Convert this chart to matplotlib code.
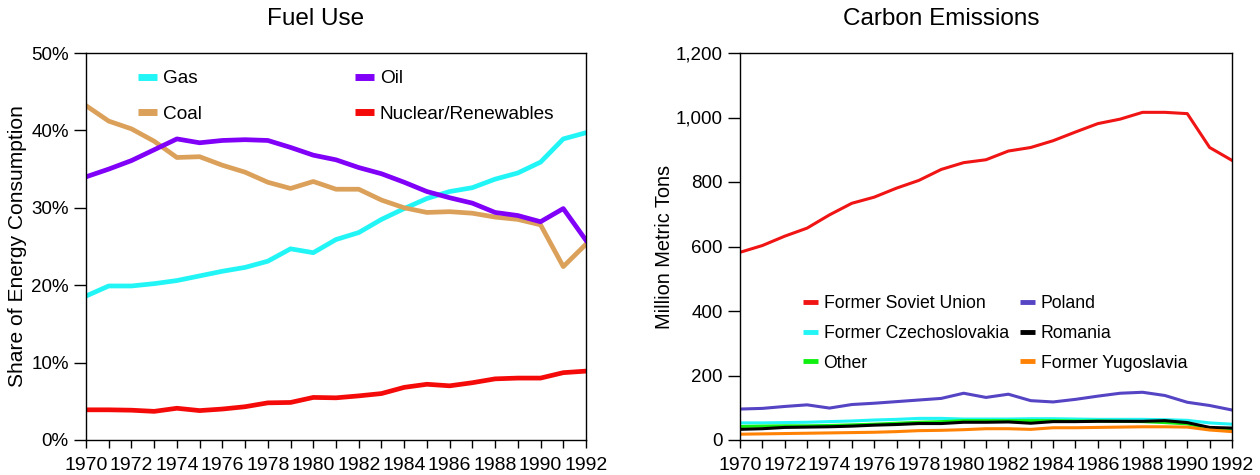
import matplotlib
matplotlib.use("Agg")
import matplotlib.pyplot as plt
from matplotlib.ticker import FuncFormatter, MultipleLocator

plt.rcParams["font.family"] = ["Liberation Sans", "DejaVu Sans"]

years = list(range(1970, 1993))

# ---- Fuel Use (share of energy consumption, %) ----
gas = [18.6, 19.9, 19.9, 20.2, 20.6, 21.2, 21.8, 22.3, 23.1, 24.7, 24.2, 25.9,
       26.8, 28.5, 29.9, 31.2, 32.1, 32.6, 33.7, 34.5, 35.9, 38.9, 39.7]
oil = [34.0, 35.0, 36.1, 37.5, 38.9, 38.4, 38.7, 38.8, 38.7, 37.8, 36.8, 36.2,
       35.2, 34.4, 33.3, 32.1, 31.3, 30.6, 29.4, 29.0, 28.2, 29.9, 25.8]
coal = [43.2, 41.2, 40.2, 38.6, 36.5, 36.6, 35.5, 34.6, 33.3, 32.5, 33.4, 32.4,
        32.4, 31.0, 30.0, 29.4, 29.5, 29.3, 28.8, 28.5, 27.8, 22.4, 25.3]
nuclear = [3.9, 3.9, 3.85, 3.7, 4.1, 3.8, 4.0, 4.3, 4.8, 4.85, 5.5, 5.45,
           5.7, 6.0, 6.8, 7.2, 7.0, 7.4, 7.9, 8.0, 8.0, 8.7, 8.9]

# ---- Carbon Emissions (million metric tons) ----
fsu = [582, 603, 632, 657, 698, 734, 753, 781, 805, 839, 860, 869,
       896, 907, 928, 955, 981, 995, 1016, 1016, 1012, 907, 867]
poland = [96, 98, 104, 109, 99, 110, 114, 119, 124, 129, 145, 132,
          142, 122, 118, 126, 136, 145, 148, 138, 117, 107, 93]
czech = [53, 53, 54, 55, 57, 59, 62, 64, 67, 67, 65, 65,
         65, 66, 66, 65, 64, 64, 64, 63, 61, 53, 49]
romania = [33, 35, 39, 40, 41, 43, 46, 48, 51, 51, 55, 55,
           56, 52, 57, 57, 58, 58, 58, 60, 54, 39, 37]
other = [42, 43, 44, 44, 45, 47, 49, 52, 55, 57, 60, 60,
         60, 60, 60, 59, 59, 58, 57, 54, 50, 36, 33]
yugo = [18, 19, 20, 21, 22, 23, 24, 26, 29, 30, 32, 35,
        35, 33, 38, 38, 39, 40, 41, 41, 40, 31, 26]

W, H = 1260, 475
fig = plt.figure(figsize=(W / 100, H / 100), dpi=100)
ax1 = fig.add_axes([86 / W, 35 / H, 500 / W, 387 / H])
ax2 = fig.add_axes([740 / W, 35 / H, 492 / W, 387 / H])

# left panel
ax1.plot(years, gas, color="#22F5F5", lw=3.4, label="Gas")
ax1.plot(years, coal, color="#DBA15A", lw=3.4, label="Coal")
ax1.plot(years, oil, color="#8000F8", lw=3.4, label="Oil")
ax1.plot(years, nuclear, color="#F50A0A", lw=3.4, label="Nuclear/Renewables")
ax1.set_ylim(0, 50)
ax1.yaxis.set_major_locator(MultipleLocator(10))
ax1.yaxis.set_major_formatter(FuncFormatter(lambda v, p: f"{v:.0f}%"))
ax1.set_ylabel("Share of Energy Consumption", fontsize=15.1, labelpad=3)
fig.text(316 / W, 1 - 19 / H, "Fuel Use", fontsize=17.5, ha="center", va="center")
leg1 = ax1.legend(loc="upper left", bbox_to_anchor=(0.07, 1.0), ncol=2,
                  frameon=False, fontsize=13.7, handlelength=1.0,
                  handletextpad=0.3, columnspacing=8.05, labelspacing=0.94)
for h in leg1.legend_handles:
    h.set_linewidth(5)
    h.set_solid_capstyle("butt")

# right panel
ax2.plot(years, fsu, color="#F01414", lw=2.2, label="Former Soviet Union")
ax2.plot(years, czech, color="#22F5F5", lw=2.2, label="Former Czechoslovakia")
ax2.plot(years, other, color="#10F010", lw=2.2, label="Other")
ax2.plot(years, poland, color="#5544C4", lw=2.2, label="Poland")
ax2.plot(years, romania, color="black", lw=2.2, label="Romania")
ax2.plot(years, yugo, color="#FF8205", lw=2.2, label="Former Yugoslavia")
ax2.set_ylim(0, 1200)
ax2.yaxis.set_major_locator(MultipleLocator(200))
ax2.yaxis.set_major_formatter(FuncFormatter(lambda v, p: f"{v:,.0f}"))
ax2.set_ylabel("Million Metric Tons", fontsize=14.4, labelpad=1)
fig.text(941 / W, 1 - 19 / H, "Carbon Emissions", fontsize=17.5, ha="center", va="center")
leg2 = ax2.legend(loc="upper left", bbox_to_anchor=(0.095, 0.415), ncol=2,
                  frameon=False, fontsize=12.7, handlelength=0.85,
                  handletextpad=0.34, columnspacing=0.63, labelspacing=0.72)
for h in leg2.legend_handles:
    h.set_linewidth(3.5)
    h.set_solid_capstyle("butt")

for ax in (ax1, ax2):
    ax.set_xlim(1970, 1992)
    ax.set_xticks(years, minor=True)
    ax.set_xticks(years[::2])
    ax.set_xticklabels([str(y) for y in years[::2]])
    ax.tick_params(axis="both", which="both", direction="out", color="black", width=1)
    ax.tick_params(axis="x", which="both", length=5.5, pad=7, labelsize=14)
    ax.tick_params(axis="y", length=8.5, pad=4, labelsize=13.5)
    for s in ax.spines.values():
        s.set_linewidth(1)

fig.savefig("out.png", dpi=100)
